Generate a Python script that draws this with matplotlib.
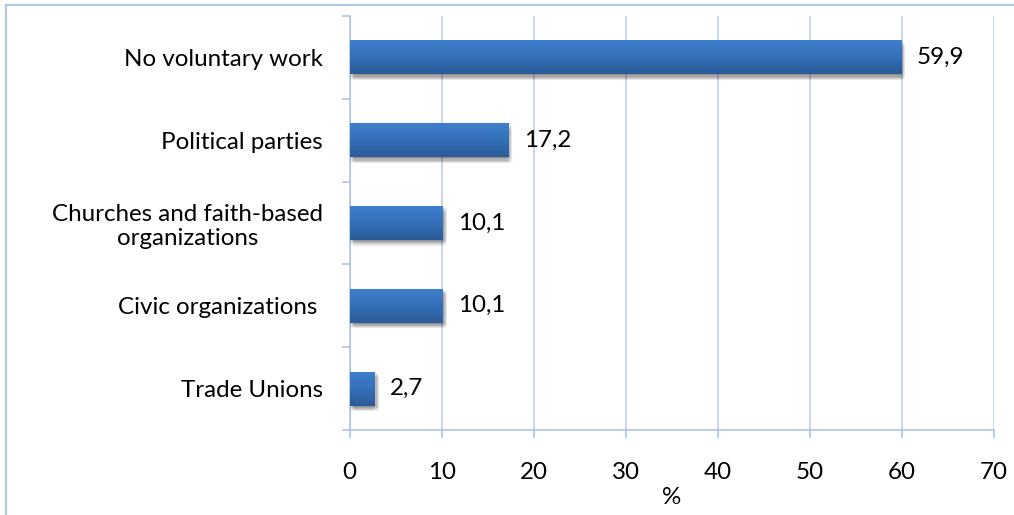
import numpy as np
import matplotlib
matplotlib.use("Agg")
import matplotlib.pyplot as plt
import matplotlib.patheffects as pe
from matplotlib.colors import LinearSegmentedColormap
from matplotlib.lines import Line2D

plt.rcParams['font.family'] = ['Lato', 'DejaVu Sans']

categories = [
    "No voluntary work",
    "Political parties",
    "Churches and faith-based\norganizations",
    "Civic organizations ",
    "Trade Unions",
]
values = [59.9, 17.2, 10.1, 10.1, 2.7]
value_labels = ["59,9", "17,2", "10,1", "10,1", "2,7"]
x_ticks = [0, 10, 20, 30, 40, 50, 60, 70]
x_label = "%"

W, H, DPI = 1014, 515, 100
fig = plt.figure(figsize=(W / DPI, H / DPI), dpi=DPI)
fig.patch.set_facecolor("white")

left, right = 349.5 / W, 994 / W
top, bottom = 1 - 16 / H, 1 - 430 / H
ax = fig.add_axes([left, bottom, right - left, top - bottom])

axis_col = "#a9c0e2"
grid_col = "#b9cce8"
font_size = 17.4

n = len(categories)
ypos = np.arange(n)[::-1]  # first category on top
bar_h = 0.41

grad_cmap = LinearSegmentedColormap.from_list("barblue", ["#2b5a97", "#3470b8", "#3e7fcd"])
grad = np.linspace(0, 1, 64).reshape(-1, 1)

# soft drop shadow built from many faint offset copies
shadow = []
for dx in (0.0, 0.8, 1.6, 2.4, 3.2):
    for dy in (-0.8, -1.6, -2.4, -3.2, -4.0):
        shadow.append(pe.SimplePatchShadow(offset=(dx, dy), shadow_rgbFace="black", alpha=0.02))
shadow.append(pe.Normal())

bars = ax.barh(ypos, values, height=bar_h, color="#3570b8", zorder=3,
               path_effects=shadow)
for rect in bars:
    x0, y0 = rect.get_x(), rect.get_y()
    w, h = rect.get_width(), rect.get_height()
    im = ax.imshow(grad, extent=[x0, x0 + w, y0, y0 + h], origin="lower",
                   aspect="auto", cmap=grad_cmap, zorder=4, interpolation="bicubic")
    im.set_clip_path(rect)

for y, v, lab in zip(ypos, values, value_labels):
    ax.annotate(lab, xy=(v, y), xytext=(11.5, 0), textcoords="offset points",
                ha="left", va="center", fontsize=font_size, color="black", zorder=5)

ax.set_xlim(0, 70)
ax.set_ylim(-0.5, n - 0.5)
ax.set_xticks(x_ticks)
ax.set_xticklabels([str(t) for t in x_ticks])
ax.set_yticks(ypos)
ax.set_yticklabels(categories, multialignment="center", linespacing=1.15)
ax.set_yticks(np.arange(-0.5, n, 1.0), minor=True)

ax.grid(axis="x", color=grid_col, linewidth=1.1, zorder=0)
ax.set_axisbelow(True)

for s in ["top", "right"]:
    ax.spines[s].set_visible(False)
for s in ["left", "bottom"]:
    ax.spines[s].set_color(axis_col)
    ax.spines[s].set_linewidth(1.1)

ax.tick_params(axis="y", which="major", length=0, pad=19, labelsize=font_size)
ax.tick_params(axis="y", which="minor", length=6, width=1.1, color=axis_col)
ax.tick_params(axis="x", which="major", length=6, width=1.1, color=axis_col,
               pad=17, labelsize=font_size)

ax.set_xlabel(x_label, fontsize=font_size, labelpad=3)

# outer frame of the chart area
fig.add_artist(Line2D([5.5 / W, 5.5 / W], [0, 1 - 4.5 / H], color="#b3c8e6", linewidth=1.6))
fig.add_artist(Line2D([5.5 / W, 1], [1 - 4.5 / H, 1 - 4.5 / H], color="#b3c8e6", linewidth=1.6))

fig.savefig("out.png", dpi=DPI, facecolor="white")
